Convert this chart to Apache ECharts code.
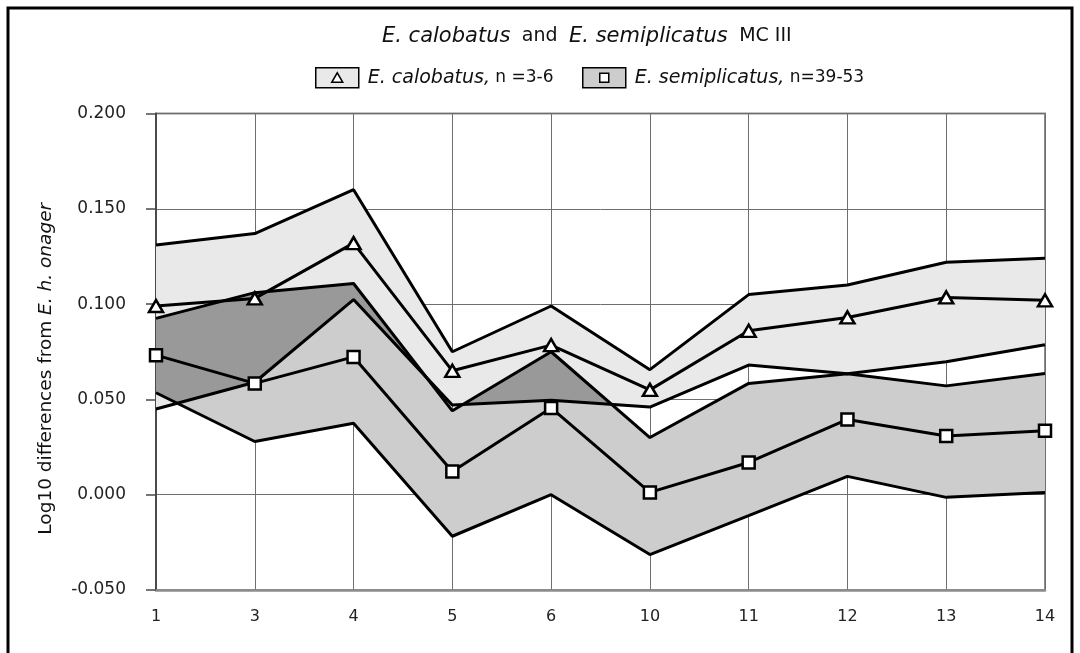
<!DOCTYPE html>
<html>
<head>
<meta charset="utf-8">
<script src="https://cdn.jsdelivr.net/npm/echarts@6/dist/echarts.min.js"></script>
<style>
html,body{margin:0;padding:0;background:#fff;}
#chart{width:1080px;height:653px;}
</style>
</head>
<body>
<div id="chart"></div>
<script>
// Categories (MC III measurements)
var categories = ['1', '3', '4', '5', '6', '10', '11', '12', '13', '14'];
// E. calobatus: max, mean, min
var calMax  = [0.131, 0.137, 0.160, 0.075, 0.099, 0.0656, 0.105, 0.110, 0.122, 0.124];
var calMean = [0.099, 0.103, 0.132, 0.065, 0.0785, 0.055, 0.086, 0.093, 0.1035, 0.102];
var calMin  = [0.045, 0.059, 0.1024, 0.047, 0.0495, 0.046, 0.068, 0.0635, 0.0697, 0.0787];
// E. semiplicatus: max, mean, min
var semiMax  = [0.0925, 0.106, 0.1108, 0.044, 0.075, 0.030, 0.0584, 0.0635, 0.0571, 0.0636];
var semiMean = [0.0732, 0.0584, 0.0723, 0.0122, 0.0455, 0.0012, 0.0169, 0.0395, 0.0308, 0.0336];
var semiMin  = [0.0535, 0.0279, 0.0375, -0.0218, 0.000, -0.0314, -0.011, 0.0096, -0.0014, 0.0012];
var yTicks = ['-0.050', '0.000', '0.050', '0.100', '0.150', '0.200'];

var calName = 'E. calobatus, n =3-6';
var semiName = 'E. semiplicatus, n=39-53';
var FONT = 'DejaVu Sans';
var C_LIGHT = '#e9e9e9', C_MED = '#cdcdcd', C_DARK = '#999999';

var n = categories.length;
function lin(arr, x) {
  var i = Math.min(Math.floor(x), n - 2), t = x - i;
  return arr[i] * (1 - t) + arr[i + 1] * t;
}
function pt(api, x, v) {
  var i = Math.min(Math.floor(x), n - 2), t = x - i;
  var a = api.coord([i, v]), b = api.coord([i + 1, v]);
  return [a[0] + (b[0] - a[0]) * t, a[1]];
}
function bandRender(hi, lo, color) {
  return function (params, api) {
    var pts = [], i;
    for (i = 0; i < n; i++) pts.push(api.coord([i, hi[i]]));
    for (i = n - 1; i >= 0; i--) pts.push(api.coord([i, lo[i]]));
    return { type: 'polygon', shape: { points: pts }, style: { fill: color }, silent: true };
  };
}
function overlapRender(params, api) {
  var lines = [calMax, calMin, semiMax, semiMin];
  var xs = [], i, a, b;
  for (i = 0; i < n; i++) xs.push(i);
  for (i = 0; i < n - 1; i++) {
    for (a = 0; a < 4; a++) for (b = a + 1; b < 4; b++) {
      var d0 = lines[a][i] - lines[b][i], d1 = lines[a][i + 1] - lines[b][i + 1];
      if (d0 * d1 < 0) xs.push(i + d0 / (d0 - d1));
    }
  }
  xs.sort(function (p, q) { return p - q; });
  function up(x) { return Math.min(lin(calMax, x), lin(semiMax, x)); }
  function lo(x) { return Math.max(lin(calMin, x), lin(semiMin, x)); }
  var children = [], run = null;
  for (var k = 0; k < xs.length - 1; k++) {
    var mid = (xs[k] + xs[k + 1]) / 2;
    if (up(mid) - lo(mid) > 1e-9) {
      if (!run) run = [xs[k]];
      run.push(xs[k + 1]);
    } else if (run) { children.push(run); run = null; }
  }
  if (run) children.push(run);
  var shapes = children.map(function (r) {
    var pts = [], j;
    for (j = 0; j < r.length; j++) pts.push(pt(api, r[j], up(r[j])));
    for (j = r.length - 1; j >= 0; j--) pts.push(pt(api, r[j], lo(r[j])));
    return { type: 'polygon', shape: { points: pts }, style: { fill: C_DARK }, silent: true };
  });
  return { type: 'group', children: shapes };
}
function lineSeries(name, data, symbol, size) {
  return {
    name: name, type: 'line', data: data, z: 5,
    symbol: symbol || 'none', symbolSize: size || 0, showSymbol: !!symbol,
    lineStyle: { color: '#000', width: 3 },
    itemStyle: { color: '#fff', borderColor: '#000', borderWidth: 2.5 },
    emphasis: { disabled: true }, silent: true, animation: false
  };
}

var chart = echarts.init(document.getElementById('chart'), null, { renderer: 'canvas' });
var legendText = { fontFamily: FONT, color: '#111', fontWeight: 'normal',
  rich: { s: { width: 4 }, i: { fontStyle: 'italic', fontWeight: 'normal', fontSize: 19, fontFamily: FONT, color: '#111' },
          n: { fontSize: 17, fontWeight: 'normal', fontFamily: FONT, color: '#111' } } };
function legendFmt(name) {
  var p = name.split(', ');
  return '{s|}{i|' + p[0] + ',}{n| ' + p[1] + '}';
}
chart.setOption({
  animation: false,
  backgroundColor: '#fff',
  title: {
    text: '{i|E. calobatus}  {n|and}  {i|E. semiplicatus}  {n|MC III}',
    left: 382, top: 26, padding: 0,
    textStyle: { fontFamily: FONT, fontWeight: 'normal', rich: {
      i: { fontStyle: 'italic', fontWeight: 'normal', fontSize: 21, fontFamily: FONT, color: '#111' },
      n: { fontSize: 19, fontWeight: 'normal', fontFamily: FONT, color: '#111' } } }
  },
  legend: [
    { left: 315, top: 67, padding: 0, selectedMode: false, itemWidth: 43, itemHeight: 20,
      data: [{ name: calName, icon: 'path://M0,0H43V20H0Z M16,14.5H27L21.5,5Z',
               itemStyle: { color: C_LIGHT, borderColor: '#000', borderWidth: 1.5 } }],
      formatter: legendFmt, textStyle: legendText },
    { left: 582, top: 67, padding: 0, selectedMode: false, itemWidth: 43, itemHeight: 20,
      data: [{ name: semiName, icon: 'path://M0,0H43V20H0Z M17,5.5V14.5H26V5.5Z',
               itemStyle: { color: C_MED, borderColor: '#000', borderWidth: 1.5 } }],
      formatter: legendFmt, textStyle: legendText }
  ],
  grid: { left: 156, right: 35, top: 113.5, bottom: 63, show: true, borderColor: '#8c8c8c', borderWidth: 2, backgroundColor: 'transparent' },
  xAxis: {
    type: 'category', data: categories, boundaryGap: false,
    axisLine: { onZero: false, lineStyle: { color: '#8c8c8c', width: 2.5 } },
    axisTick: { show: false },
    axisLabel: { margin: 19, fontSize: 16, fontFamily: FONT, color: '#222' },
    splitLine: { show: true, lineStyle: { color: '#6e6e6e', width: 1 } }
  },
  yAxis: {
    type: 'value', min: -0.05, max: 0.2, interval: 0.05,
    name: '{n|Log10 differences from }{i|E. h. onager}',
    nameLocation: 'middle', nameGap: 100,
    nameTextStyle: { padding: [0, 34, 0, 0], rich: {
      n: { fontSize: 18.5, fontFamily: FONT, color: '#111' },
      i: { fontSize: 18.5, fontFamily: FONT, fontStyle: 'italic', color: '#111' } } },
    axisLine: { show: true, lineStyle: { color: '#4a4a4a', width: 2 } },
    axisTick: { show: true, length: 10, lineStyle: { color: '#4a4a4a', width: 1.5 } },
    axisLabel: { margin: 30, fontSize: 17, fontFamily: FONT, color: '#222',
      formatter: function (v) { return yTicks[Math.round((v + 0.05) / 0.05)]; } },
    splitLine: { show: true, lineStyle: { color: '#6e6e6e', width: 1 } }
  },
  graphic: [{ type: 'rect', shape: { x: 8, y: 8, width: 1064, height: 660 },
    style: { fill: 'none', stroke: '#000', lineWidth: 3 }, silent: true, z: 100 }],
  series: [
    { name: calName, type: 'custom', renderItem: bandRender(calMax, calMin, C_LIGHT), data: [[0, 0]], z: 1,
      itemStyle: { color: C_LIGHT }, silent: true, clip: false },
    { name: semiName, type: 'custom', renderItem: bandRender(semiMax, semiMin, C_MED), data: [[0, 0]], z: 2,
      itemStyle: { color: C_MED }, silent: true, clip: false },
    { name: 'overlap', type: 'custom', renderItem: overlapRender, data: [[0, 0]], z: 3, silent: true, clip: false },
    lineSeries('calMax', calMax),
    lineSeries('calMin', calMin),
    lineSeries('semiMax', semiMax),
    lineSeries('semiMin', semiMin),
    lineSeries('calMean', calMean, 'triangle', [14, 12]),
    lineSeries('semiMean', semiMean, 'rect', 12)
  ]
});
</script>
</body>
</html>
